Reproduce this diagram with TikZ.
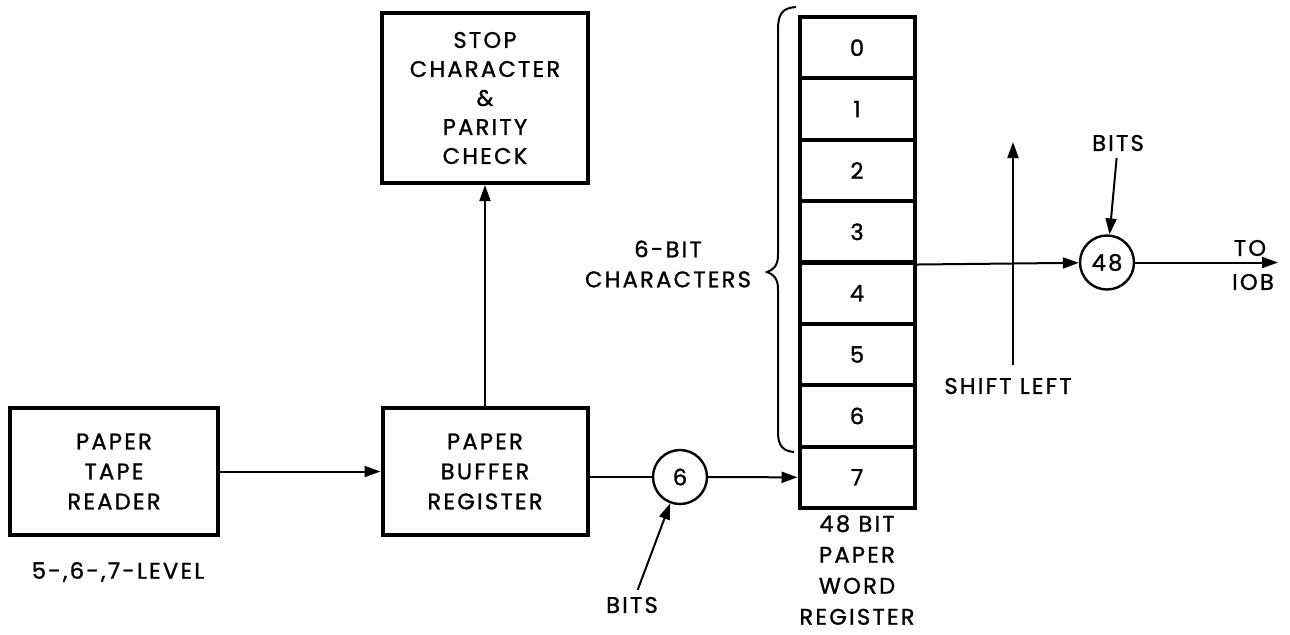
\documentclass[tikz,border=0pt]{standalone}
\usepackage{fontspec}
\setmainfont{Poppins}[LetterSpace=10,FakeBold=1.2]
\usetikzlibrary{arrows.meta}

\begin{document}
\begin{tikzpicture}[x=0.5pt,y=-0.5pt,
    font=\fontsize{11.3}{15}\selectfont,
    blockbox/.style={draw,line width=2pt,rectangle,align=center,inner sep=0pt},
    cellbox/.style={draw,line width=2pt,rectangle,minimum width=57.5pt,minimum height=30.7pt,inner sep=0pt},
    gate/.style={draw,line width=1.2pt,circle,minimum size=27pt,inner sep=0pt},
    arr/.style={line width=1pt,-{Triangle[length=8pt,width=5.5pt]}},
    wire/.style={line width=1pt}]
            \useasboundingbox (0,0) rectangle (1290,634);

            % blocks
            \node[blockbox,minimum width=104pt,minimum height=63.5pt] (reader) at (114,471.5) {PAPER\\TAPE\\READER};
            \node[blockbox,minimum width=102.5pt,minimum height=63.5pt] (buffer) at (485,471.5) {PAPER\\BUFFER\\REGISTER};
            \node[blockbox,minimum width=103pt,minimum height=85pt,font=\fontsize{11.3}{14.5}\selectfont] (stop) at (485,98) {STOP\\CHARACTER\\\&\\PARITY\\CHECK};

            % paper word register
            \foreach \i in {0,...,7}
                \node[cellbox] (cell\i) at (857,{17+61.375*(\i+0.5)}) {\i};

            \node[gate] (six) at (680,477) {6};
            \node[gate] (c48) at (1107,262.5) {48};

            % labels
            \node (level) at (118,572) {5-,6-,7-LEVEL};
            \node[align=center] (chars) at (668,264) {6-BIT\\CHARACTERS};
            \node[align=center,font=\fontsize{11.3}{15.5}\selectfont] (regname) at (857,570) {48 BIT\\PAPER\\WORD\\REGISTER};
            \node (shift) at (1008,386) {SHIFT LEFT};
            \node (bitsA) at (1118,143) {BITS};
            \node (bitsB) at (632,605) {BITS};
            \node (to) at (1250,248) {TO};
            \node (iob) at (1253,282) {IOB};

            \coordinate (shiftbot) at (1013,365);
            \coordinate (shifttop) at (1013,142);
            \coordinate (out) at (1278,262.5);

            % brace
            \draw[line width=1pt] (796,7) .. controls (782,8) and (778,14) .. (778,30) -- (778,255)
                .. controls (778,266) and (773,270) .. (767,272)
                .. controls (773,274) and (778,278) .. (778,289) -- (778,432)
                .. controls (778,446) and (783,451) .. (794,452);

            % connectors
            \draw[arr] (reader) -- (buffer);
            \draw[arr] (buffer) -- (stop);
            \draw[wire] (buffer.east |- six) -- (six);
            \draw[arr] (six) -- (cell7.west);
            \draw[arr] (bitsB) -- (six);
            \draw[arr] (cell3.south east) -- (c48);
            \draw[arr] (bitsA) -- (c48);
            \draw[arr] (c48) -- (out);
            \draw[arr] (shiftbot) -- (shifttop);
        \end{tikzpicture}
\end{document}
